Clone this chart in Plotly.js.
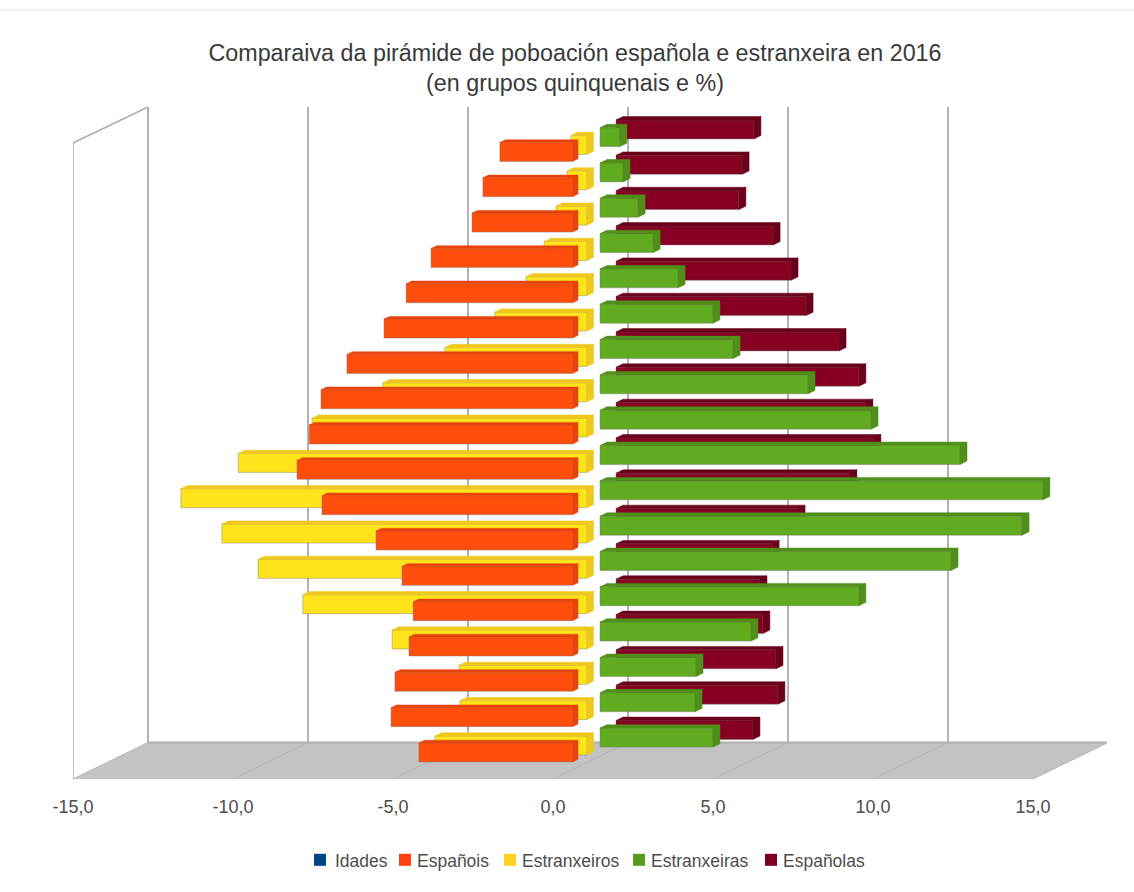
<!DOCTYPE html>
<html>
<head>
<meta charset="utf-8">
<script src="https://cdn.plot.ly/plotly-3.0.0.min.js"></script>
<style>
html,body{margin:0;padding:0;background:#fff}
#chart{width:1134px;height:892px}
/* the reference sets legend text closer to its swatch than Plotly's minimum */
#chart text.legendtext{transform:translateX(-5px)}
#chart text.legend2text,#chart text.legend3text,#chart text.legend4text,#chart text.legend5text{transform:translateX(-8px)}
</style>
</head>
<body>
<div id="chart"></div>
<script>
const ageGroups = ["85+","80-84","75-79","70-74","65-69","60-64","55-59","50-54","45-49","40-44","35-39","30-34","25-29","20-24","15-19","10-14","5-9","0-4"];
const idades = [0,0,0,0,0,0,0,0,0,0,0,0,0,0,0,0,0,0];
const espanois = [-2.27,-2.80,-3.14,-4.42,-5.20,-5.89,-7.05,-7.86,-8.23,-8.61,-7.83,-6.14,-5.33,-4.98,-5.11,-5.55,-5.67,-4.80];
const estranxeiros = [-0.50,-0.62,-0.97,-1.34,-1.91,-2.88,-4.44,-6.38,-8.59,-10.90,-12.69,-11.41,-10.28,-8.88,-6.09,-4.00,-3.97,-4.75];
const estranxeiras = [0.62,0.72,1.19,1.66,2.44,3.53,4.16,6.50,8.47,11.25,13.84,13.19,10.97,8.09,4.72,3.00,2.97,3.53];
const espanolas = [4.31,3.94,3.84,4.91,5.47,5.94,6.97,7.59,7.81,8.06,7.31,5.69,4.88,4.50,4.59,5.00,5.06,4.28];
const tickVals = [-15,-10,-5,0,5,10,15];
const tickText = ["-15,0","-10,0","-5,0","0,0","5,0","10,0","15,0"];
const titleText = "Comparaiva da pirámide de poboación española e estranxeira en 2016<br>(en grupos quinquenais e %)";

// layout geometry (pixels of the page)
const L = 73, R = 1107, T = 107, B = 779.5;
const W = R - L, H = B - T;
const pxPerUnit = 32, pxPerRow = 35.35;
const depthPx = 75, depthPy = 36.5;
const frontZero = 553, backZero = 628;
const barH = 19 / pxPerRow;

function xRange(zero){ const r0 = -(zero - L) / pxPerUnit; return [r0, r0 + W / pxPerUnit]; }
function yRange(c0){ const r0 = (T - c0) / pxPerRow; return [r0 + H / pxPerRow, r0]; }

const seriesDefs = [
  {name:"Españolas",    vals:espanolas,    ax:3, zero:616,   c0:129.5, dx:7,   face:"#850023", dark:"#6a001b"},
  {name:"Estranxeiros", vals:estranxeiros, ax:4, zero:587,   c0:145.0, dx:6.5, face:"#ffe41c", dark:"#f0c81c"},
  {name:"Estranxeiras", vals:estranxeiras, ax:5, zero:600,   c0:137.1, dx:7,   face:"#60ab1f", dark:"#4f8f1a"},
  {name:"Españois",     vals:espanois,     ax:6, zero:572.5, c0:152.0, dx:5.5, face:"#ff4e0c", dark:"#e8430b"}
];

const rowsAll = ageGroups.map(function(_,i){return i;});
const traces = [];
// legend entries, in the reference's order, with the series' base colours and swatch centre
const legendItems = [["Idades","#004586",320],["Españois","#ff420e",405],["Estranxeiros","#ffd320",510],["Estranxeiras","#579d1c",639],["Españolas","#7e0021",771]];
const legendIds = ["legend","legend2","legend3","legend4","legend5"];
legendItems.forEach(function(it,k){
  const isId = k===0;
  traces.push({type:"bar",orientation:"h",name:it[0],legend:legendIds[k],x:isId?idades:[null],y:isId?rowsAll:[null],
    width:barH,xaxis:isId?"x":"x2",yaxis:isId?"y":"y2",marker:{color:it[1],line:{width:0}},hoverinfo:"skip"});
});

seriesDefs.forEach(function(s){
  const xa = "x"+s.ax, ya = "y"+s.ax;
  traces.push({type:"bar",orientation:"h",name:s.name,x:s.vals,y:rowsAll,width:barH,xaxis:xa,yaxis:ya,showlegend:false,
    text:ageGroups,hovertemplate:"%{text}: %{x:.2f}<extra>"+s.name+"</extra>",textposition:"none",
    marker:{color:s.face,line:{color:"rgba(120,120,120,0.55)",width:0.8}}});
  const px=[],py=[];
  const ddx = s.dx / pxPerUnit, ddy = (s.dx * depthPy / depthPx) / pxPerRow;
  s.vals.forEach(function(v,i){
    const a = Math.min(0,v), b = Math.max(0,v), t = i - barH/2, u = i + barH/2;
    px.push(a,a+ddx,b+ddx,b,a,null); py.push(t,t-ddy,t-ddy,t,t,null);
    px.push(b,b+ddx,b+ddx,b,b,null); py.push(t,t-ddy,u-ddy,u,t,null);
  });
  traces.push({type:"scatter",mode:"lines",x:px,y:py,xaxis:xa,yaxis:ya,fill:"toself",fillcolor:s.dark,
    line:{color:s.dark,width:0.5},showlegend:false,hoverinfo:"skip"});
});

const layout = {
  width:1134,height:892,
  margin:{l:L,r:1134-R,t:T,b:892-B,pad:0},
  paper_bgcolor:"#fff",plot_bgcolor:"rgba(0,0,0,0)",
  separators:",.",barmode:"overlay",
  font:{family:"Liberation Sans, Arial, sans-serif",color:"#4d4d4d"},
  title:{text:titleText,font:{size:23.3,color:"#3a3a3a"},x:575/1134,xanchor:"center",xref:"container",y:1-61/892,yanchor:"top",yref:"container"},
  // back wall with its grid
  xaxis:{range:xRange(backZero),tickvals:tickVals,showgrid:true,gridcolor:"#b3b3b3",gridwidth:2,zeroline:false,showline:false,showticklabels:false,ticks:"",anchor:"y",fixedrange:true},
  yaxis:{domain:[depthPy/H,1],range:[17.8,-1.2],showgrid:false,zeroline:false,showline:false,showticklabels:false,ticks:"",anchor:"x",fixedrange:true},
  // front plane with the value labels
  xaxis2:{range:xRange(frontZero),tickmode:"array",tickvals:tickVals,ticktext:tickText,showgrid:false,zeroline:false,showline:false,ticks:"",
    ticklabelstandoff:15,tickfont:{size:18,color:"#4d4d4d"},anchor:"y2",side:"bottom",fixedrange:true},
  yaxis2:{range:yRange(152),showgrid:false,zeroline:false,showline:false,showticklabels:false,ticks:"",anchor:"x2",fixedrange:true},
  shapes:[]
};
legendItems.forEach(function(it,k){
  layout[legendIds[k]] = {orientation:"h",x:(it[2]-20-L)/W,xanchor:"left",y:(B-860.5)/H,yanchor:"middle",font:{size:17.5,color:"#4d4d4d"},bgcolor:"rgba(0,0,0,0)",
    itemclick:false,itemdoubleclick:false};
});
seriesDefs.forEach(function(s){
  layout["xaxis"+s.ax] = {range:xRange(s.zero),overlaying:"x2",anchor:"y"+s.ax,visible:false,fixedrange:true};
  layout["yaxis"+s.ax] = {range:yRange(s.c0),overlaying:"y2",anchor:"x"+s.ax,visible:false,fixedrange:true};
});

const backY = depthPy/H, depthUnits = depthPx/pxPerUnit;
const floorPath = "M-15,0 L"+(-15+depthUnits)+","+backY+" L"+(15+depthUnits)+","+backY+" L15,0 Z";
layout.shapes.push({type:"path",xref:"x2",yref:"paper",path:floorPath,fillcolor:"#c3c3c3",line:{width:0},layer:"below"});
tickVals.forEach(function(v){
  layout.shapes.push({type:"line",xref:"x2",yref:"paper",x0:v,y0:0,x1:v+depthUnits,y1:backY,line:{color:"#b4b4b4",width:1},layer:"below"});
});
// floor back edge, left wall outline, top page rule
layout.shapes.push({type:"line",xref:"x2",yref:"paper",x0:-15+depthUnits,y0:backY,x1:15+depthUnits,y1:backY,line:{color:"#b0b0b0",width:2},layer:"below"});
layout.shapes.push({type:"path",xref:"x2",yref:"paper",path:"M-15,0 L-15,"+((B-143)/H)+" L"+(-15+depthUnits)+",1",line:{color:"#b0b0b0",width:1.6},layer:"below"});
layout.shapes.push({type:"line",xref:"paper",yref:"paper",x0:-L/W,x1:(1134-L)/W,y0:(B-10)/H,y1:(B-10)/H,line:{color:"#e6e6e6",width:1}});

Plotly.newPlot("chart",traces,layout,{displayModeBar:false});
</script>
</body>
</html>
